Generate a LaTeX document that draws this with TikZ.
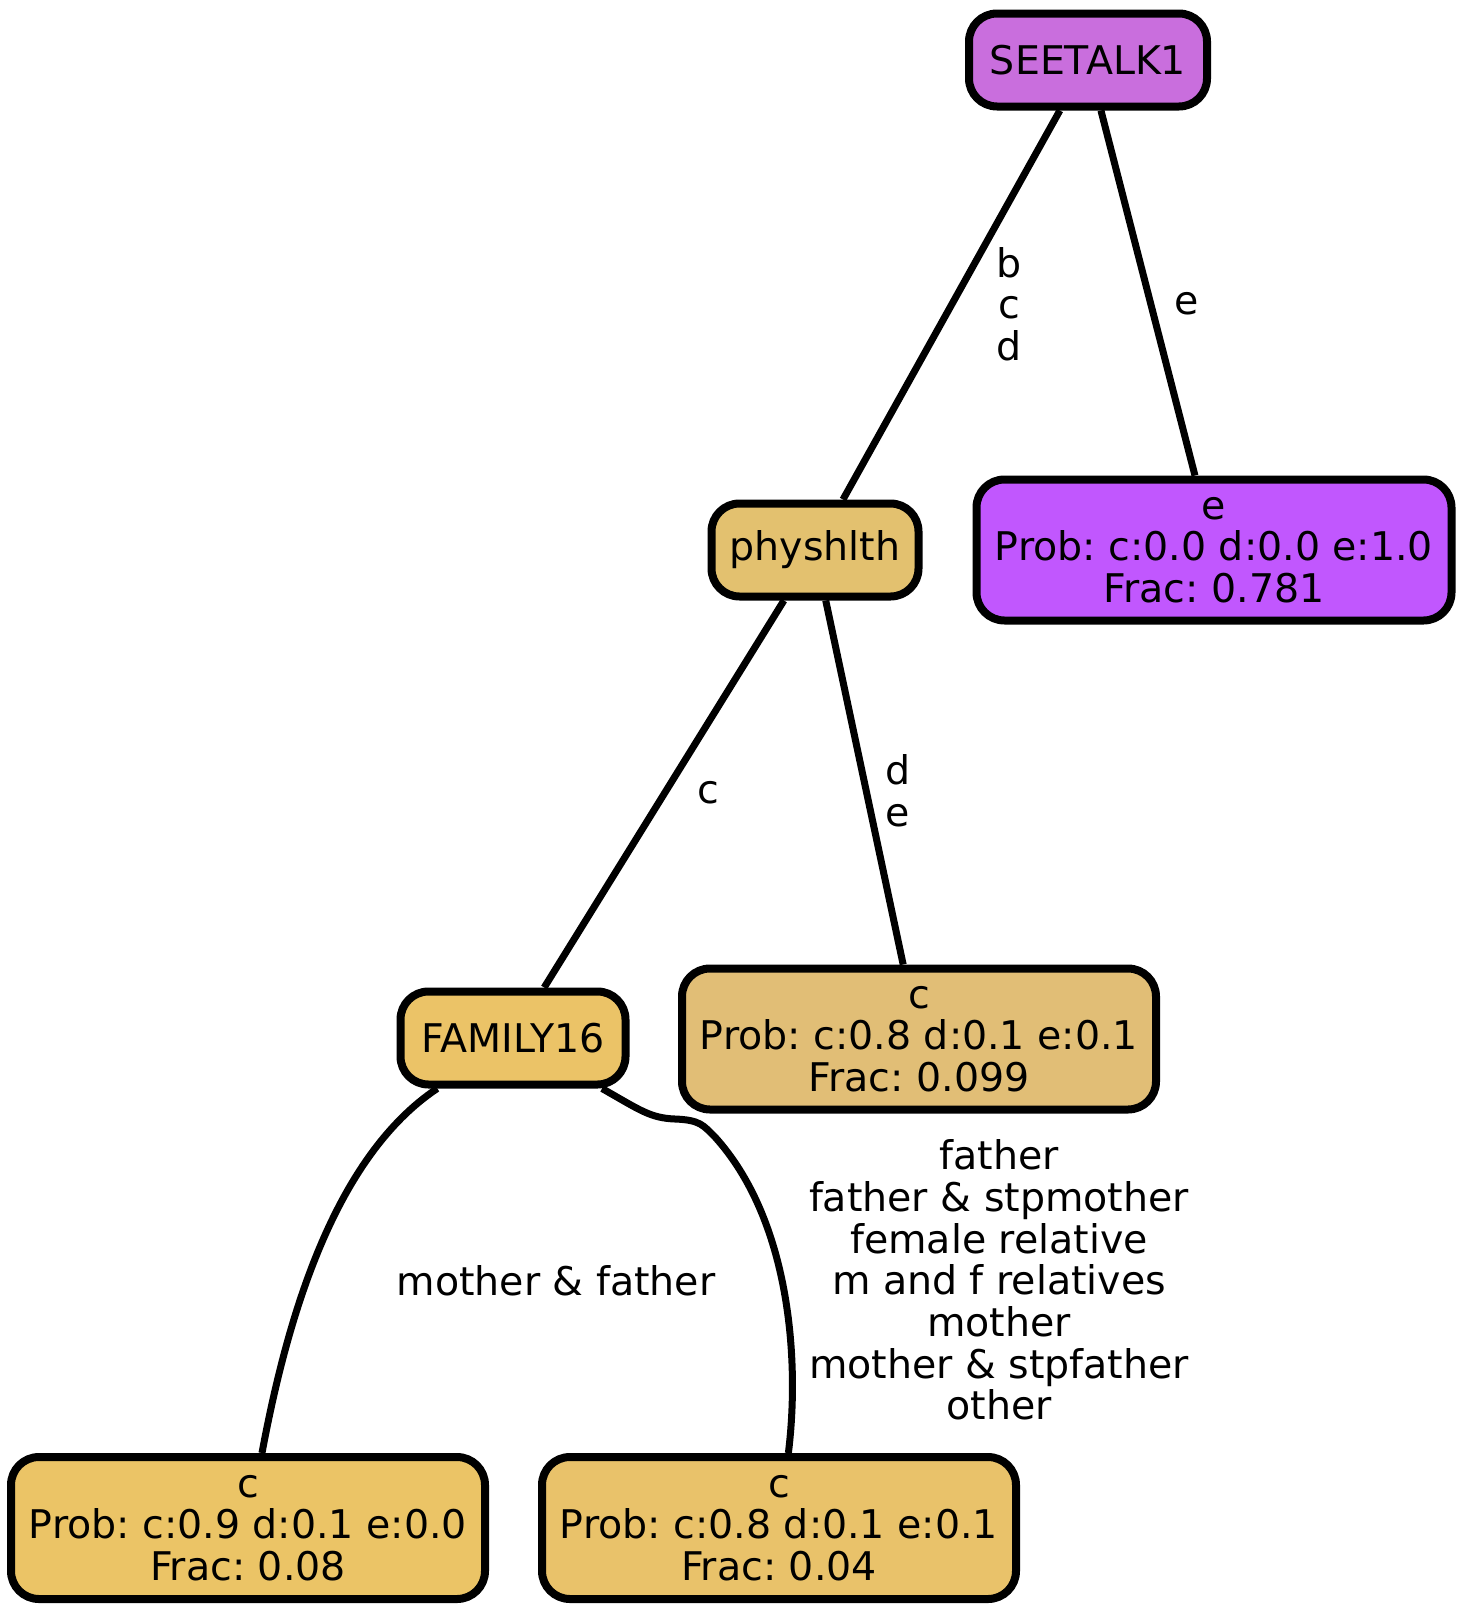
\documentclass[tikz,border=0pt]{standalone}
\usepackage{fontspec}
\setmainfont{DejaVu Sans}
\begin{document}
\frenchspacing
\begin{tikzpicture}[x=1pt,y=-1pt,
  box/.style={draw=black,line width=8pt,rounded corners=28pt,align=center,inner sep=0pt,
    font=\fontsize{39.5}{41.7}\selectfont},
  lbl/.style={align=center,inner sep=0pt,font=\fontsize{39.5}{41.7}\selectfont},
  edge/.style={line width=7pt}]
\useasboundingbox (0,0) rectangle (1464,1614);
\definecolor{cSee}{HTML}{C96EDD}
\definecolor{cPhys}{HTML}{E3C16F}
\definecolor{cFam}{HTML}{EBC367}
\definecolor{cE}{HTML}{C157FE}
\definecolor{cC099}{HTML}{E1BE76}
\definecolor{cC08}{HTML}{EBC466}
\definecolor{cC04}{HTML}{E9C26A}
\node[box,fill=cSee,minimum width=238pt,minimum height=93pt] (see) at (1088,60) {SEETALK1};
\node[box,fill=cPhys,minimum width=207pt,minimum height=93pt] (phys) at (815,550) {physhlth};
\node[box,fill=cE,minimum width=475pt,minimum height=141pt] (eleaf) at (1214,550) {e\\Prob: c:0.0 d:0.0 e:1.0\\Frac: 0.781};
\node[box,fill=cFam,minimum width=225pt,minimum height=93pt] (fam) at (513,1038) {FAMILY16};
\node[box,fill=cC099,minimum width=474pt,minimum height=141pt] (c099) at (919,1039) {c\\Prob: c:0.8 d:0.1 e:0.1\\Frac: 0.099};
\node[box,fill=cC08,minimum width=474pt,minimum height=142pt] (c08) at (248,1528) {c\\Prob: c:0.9 d:0.1 e:0.0\\Frac: 0.08};
\node[box,fill=cC04,minimum width=474pt,minimum height=142pt] (c04) at (779,1528) {c\\Prob: c:0.8 d:0.1 e:0.1\\Frac: 0.04};
\draw[edge] (see) -- (phys);
\draw[edge] (see) -- (eleaf);
\draw[edge] (phys) -- (fam);
\draw[edge] (phys) -- (c099);
\draw[edge] (fam) .. controls (330,1160) and (285,1330) .. (c08);
\draw[edge] (fam) .. controls (640,1110) and (650,1118) .. (675,1119)
  .. controls (700,1120) and (703,1125) .. (715,1137)
  .. controls (790,1220) and (800,1360) .. (c04);
% labels
\node[lbl] (l1) at (1009,304) {b\\c\\d};
\node[lbl] (l2) at (1187,304) {e};
\node[lbl] (l3) at (708,793) {c};
\node[lbl] (l4) at (898,791) {d\\e};
\node[lbl] (l5) at (556,1281) {mother \& father};
\node[lbl] (l6) at (999,1280) {father\\father \& stpmother\\female relative\\m and f relatives\\mother\\mother \& stpfather\\other};
\end{tikzpicture}
\end{document}
